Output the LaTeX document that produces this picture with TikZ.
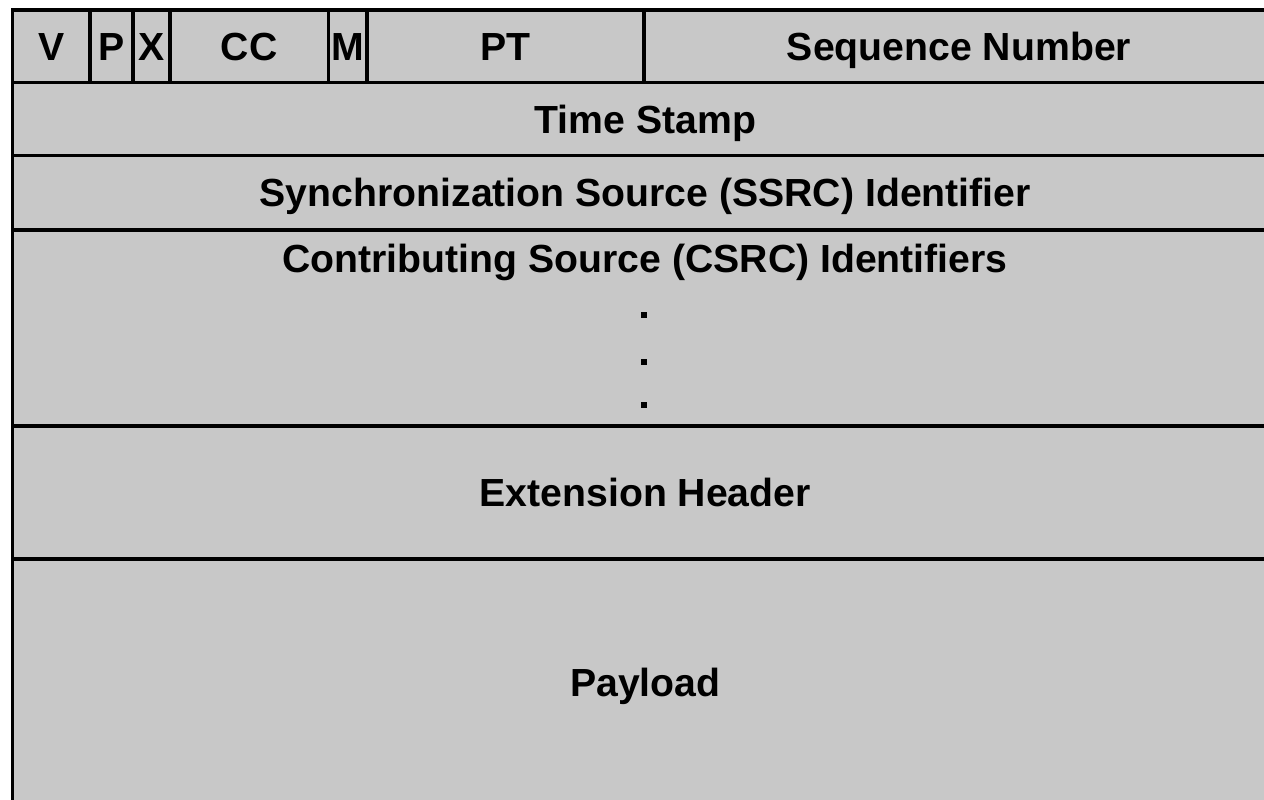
\documentclass[tikz,border=0pt]{standalone}
\usepackage{fontspec}
\setmainfont{Liberation Sans}
\definecolor{fieldgray}{HTML}{C8C8C8}
\begin{document}
\begin{tikzpicture}[x=1pt, y=-1pt,
  field/.style={rectangle, draw=black, line width=3.5pt, fill=fieldgray,
    inner sep=0pt, outer sep=0pt, anchor=north west,
    font=\fontsize{39.2}{47}\selectfont\bfseries,
    text height=28pt, text depth=0pt},
  fieldtext/.style={inner sep=0pt, anchor=base,
    font=\fontsize{39.2}{47}\selectfont\bfseries},
  dotmark/.style={rectangle, fill=black, inner sep=0pt, minimum size=6pt}]
  \useasboundingbox (0,0) rectangle (1264,800);
  \fill[white] (0,0) rectangle (1264,800);
  \clip (0,0) rectangle (1264,800);

  % first header word: V, P, X, CC, M, PT, sequence number
  \node[field, minimum width=77.5pt,  minimum height=72.5pt] (v)   at (12.5,10) {V};
  \node[field, minimum width=43pt,    minimum height=72.5pt] (p)   at (90,10)   {P};
  \node[field, minimum width=37pt,    minimum height=72.5pt] (x)   at (133,10)  {X};
  \node[field, minimum width=158.5pt, minimum height=72.5pt] (cc)  at (170,10)  {CC};
  \node[field, minimum width=38.5pt,  minimum height=72.5pt] (m)   at (328.5,10){M};
  \node[field, minimum width=277pt,   minimum height=72.5pt] (pt)  at (367,10)  {PT};
  \node[field, minimum width=630pt,   minimum height=72.5pt] (seq) at (644,10)  {Sequence Number};

  % full-width rows
  \node[field, minimum width=1265.5pt, minimum height=73pt]   (ts)   at (12.5,82.5)  {Time Stamp};
  \node[field, minimum width=1265.5pt, minimum height=74.5pt] (ssrc) at (12.5,155.5) {Synchronization Source (SSRC) Identifier};
  \node[field, minimum width=1265.5pt, minimum height=196pt]  (csrc) at (12.5,230)   {};
  \node[field, minimum width=1265.5pt, minimum height=133pt]  (ext)  at (12.5,426)   {Extension Header};
  \node[field, minimum width=1265.5pt, minimum height=246pt]  (pay)  at (12.5,559)   {Payload};

  % CSRC list: title at the top, then ellipsis dots
  \node[fieldtext] (csrctitle) at (645,272) {Contributing Source (CSRC) Identifiers};
  \node[dotmark] (dot1) at (644,315) {};
  \node[dotmark] (dot2) at (644,362) {};
  \node[dotmark] (dot3) at (644,405) {};
\end{tikzpicture}
\end{document}
